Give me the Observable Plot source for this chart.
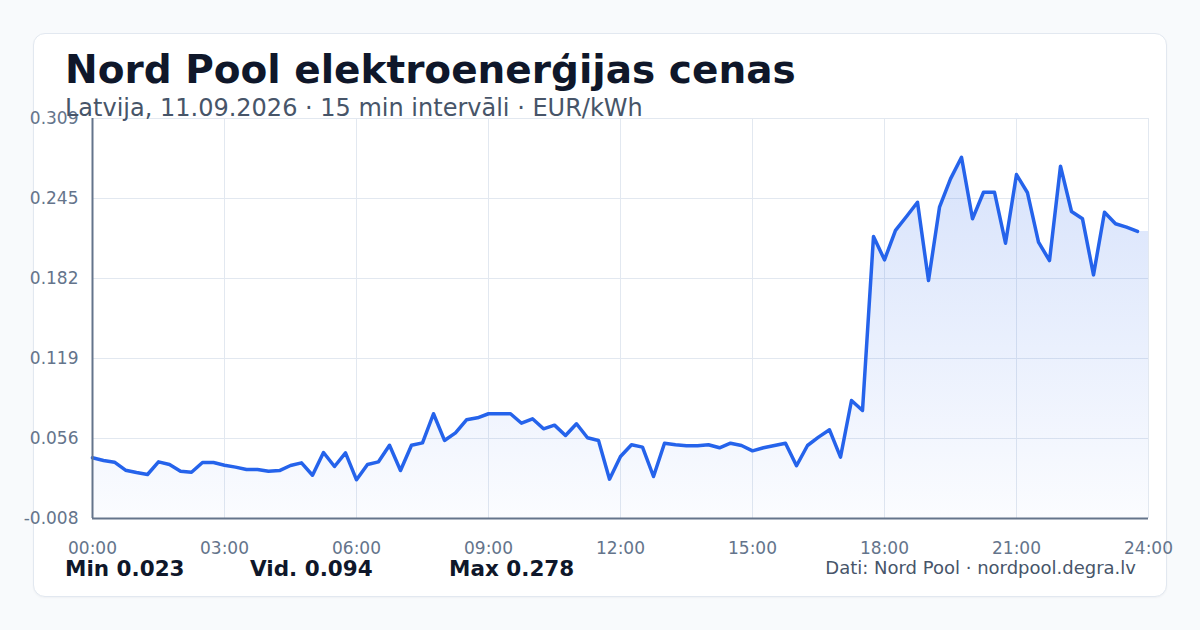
<!DOCTYPE html>
<html><head><meta charset="utf-8">
<script src="https://cdn.jsdelivr.net/npm/d3@7"></script>
<script src="https://cdn.jsdelivr.net/npm/@observablehq/plot@0.6"></script>
<style>
body{margin:0;width:1200px;height:630px;background:#f8fafc;font-family:"DejaVu Sans",sans-serif;position:relative;overflow:hidden}
#card{position:absolute;left:33px;top:33px;width:1132px;height:562px;background:#fff;border:1px solid #e2e8f0;border-radius:12px;box-shadow:0 1px 2px rgba(15,23,42,0.04)}
#chart{position:absolute;left:0;top:0}
.t{position:absolute;white-space:nowrap;line-height:1}
#title{left:65px;top:50px;font-size:39px;font-weight:bold;color:#0f172a}
#sub{left:65px;top:96px;font-size:24px;color:#475569}
.stat{top:558px;font-size:21.5px;font-weight:bold;color:#0f172a}
#src{right:64px;top:559px;font-size:18px;color:#475569}
</style></head><body>
<div id="card"></div>
<div id="chart"></div>
<div class="t" id="title">Nord Pool elektroenerģijas cenas</div>
<div class="t" id="sub">Latvija, 11.09.2026 · 15 min intervāli · EUR/kWh</div>
<div class="t stat" style="left:65px">Min 0.023</div>
<div class="t stat" style="left:250px">Vid. 0.094</div>
<div class="t stat" style="left:449px">Max 0.278</div>
<div class="t" id="src">Dati: Nord Pool · nordpool.degra.lv</div>
<script>
// 15-minute prices, EUR/kWh (96 intervals, 00:00 … 23:45)
const prices = [
  0.0404, 0.0382, 0.0369, 0.0306, 0.0288, 0.0272, 0.0372, 0.0351,
  0.0298, 0.0290, 0.0367, 0.0367, 0.0345, 0.0330, 0.0311, 0.0311,
  0.0298, 0.0303, 0.0343, 0.0364, 0.0266, 0.0446, 0.0335, 0.0443,
  0.0230, 0.0351, 0.0372, 0.0503, 0.0303, 0.0503, 0.0522, 0.0752,
  0.0541, 0.0601, 0.0704, 0.0720, 0.0752, 0.0752, 0.0752, 0.0677,
  0.0712, 0.0633, 0.0662, 0.0580, 0.0673, 0.0562, 0.0541, 0.0235,
  0.0414, 0.0507, 0.0488, 0.0256, 0.0519, 0.0507, 0.0499, 0.0499,
  0.0507, 0.0483, 0.0519, 0.0501, 0.0459, 0.0483, 0.0501, 0.0519,
  0.0341, 0.0501, 0.0567, 0.0625, 0.0409, 0.0857, 0.0778, 0.2153,
  0.1969, 0.2201, 0.2311, 0.2424, 0.1805, 0.2385, 0.2609, 0.2780,
  0.2293, 0.2503, 0.2503, 0.2100, 0.2643, 0.2499, 0.2108, 0.1963,
  0.2709, 0.2351, 0.2293, 0.1850, 0.2345, 0.2254, 0.2227, 0.2193
];
const intervalHours = 0.25;
const xTicks = [0, 3, 6, 9, 12, 15, 18, 21, 24];
const xLabels = ["00:00","03:00","06:00","09:00","12:00","15:00","18:00","21:00","24:00"];
const yMin = -0.0076, yMax = 0.3086;
const yTicks = [-0.0076, 0.05564, 0.11888, 0.18212, 0.24536, 0.3086];

const lineData = prices.map((v, i) => ({t: i * intervalHours, v}));
const areaData = lineData.concat([{t: 24, v: prices[prices.length - 1]}]);

const chart = Plot.plot({
  width: 1200, height: 560,
  marginLeft: 92, marginRight: 52, marginTop: 118, marginBottom: 42,
  style: {fontFamily: "DejaVu Sans", fontSize: "17px", color: "#64748b", background: "transparent", overflow: "visible"},
  x: {domain: [0, 24], ticks: xTicks, tickFormat: d => xLabels[xTicks.indexOf(d)], label: null, tickSize: 0, tickPadding: 23},
  y: {domain: [yMin, yMax], ticks: yTicks, tickFormat: d => d.toFixed(3), label: null, tickSize: 0, tickPadding: 14},
  marks: [
    Plot.gridX(xTicks, {stroke: "#e2e8f0", strokeOpacity: 1}),
    Plot.gridY(yTicks, {stroke: "#e2e8f0", strokeOpacity: 1}),
    Plot.areaY(areaData, {x: "t", y1: yMin, y2: "v", fill: "url(#areaGrad)"}),
    Plot.lineY(lineData, {x: "t", y: "v", stroke: "#2563eb", strokeWidth: 3.5, strokeLinejoin: "round", strokeLinecap: "round"}),
    Plot.ruleX([0], {stroke: "#64748b", strokeWidth: 2}),
    Plot.ruleY([yMin], {stroke: "#64748b", strokeWidth: 2})
  ]
});
const svg = d3.select(chart);
const grad = svg.insert("defs", ":first-child").append("linearGradient")
  .attr("id", "areaGrad").attr("gradientUnits", "userSpaceOnUse")
  .attr("x1", 0).attr("y1", 118).attr("x2", 0).attr("y2", 518);
grad.append("stop").attr("offset", 0).attr("stop-color", "#2563eb").attr("stop-opacity", 0.2);
grad.append("stop").attr("offset", 1).attr("stop-color", "#2563eb").attr("stop-opacity", 0.02);
document.getElementById("chart").appendChild(chart);
</script>
</body></html>
